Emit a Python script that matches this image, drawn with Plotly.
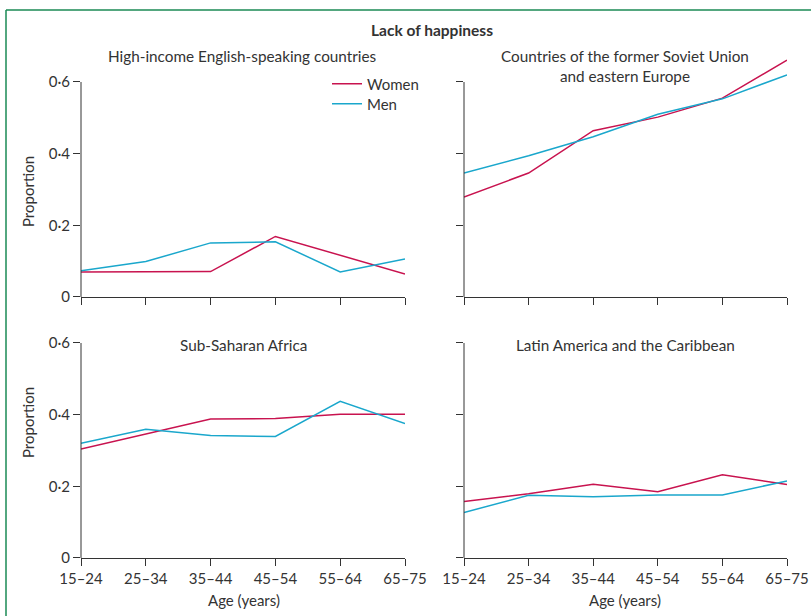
import plotly.graph_objects as go

age_groups = ["15–24", "25–34", "35–44", "45–54", "55–64", "65–75"]
y_ticks = [0, 0.2, 0.4, 0.6]
y_tick_labels = ["0", "0·2", "0·4", "0·6"]

regions = [
    "High-income English-speaking countries",
    "Countries of the former Soviet Union<br>and eastern Europe",
    "Sub-Saharan Africa",
    "Latin America and the Caribbean",
]

women_hi = [0.070, 0.071, 0.071, 0.169, 0.116, 0.064]
men_hi = [0.073, 0.099, 0.151, 0.154, 0.070, 0.106]
women_fsu = [0.279, 0.346, 0.464, 0.502, 0.555, 0.661]
men_fsu = [0.346, 0.394, 0.447, 0.510, 0.553, 0.620]
women_ssa = [0.304, 0.346, 0.388, 0.389, 0.401, 0.401]
men_ssa = [0.320, 0.359, 0.342, 0.339, 0.437, 0.375]
women_lac = [0.158, 0.179, 0.206, 0.185, 0.232, 0.205]
men_lac = [0.127, 0.175, 0.171, 0.176, 0.176, 0.215]

women = [women_hi, women_fsu, women_ssa, women_lac]
men = [men_hi, men_fsu, men_ssa, men_lac]

WOMEN_COLOR = "#c8134f"
MEN_COLOR = "#1aa7cc"
TEXT = "#333333"
FONT = "Lato"
YMAX = 0.7

W, H = 811, 616
ml, mr, mt, mb = 81, 24, 40, 58
pw, ph = W - ml - mr, H - mt - mb

def px_x(p):
    return (p - ml) / pw

def px_y(p):
    return (H - mb - p) / ph

col_domains = [[0, px_x(405)], [px_x(464), 1]]
row_px = [(297, 82), (558, 343)]
row_domains = []
for p0, p6 in row_px:
    top = p0 - (p0 - p6) * YMAX / 0.6
    row_domains.append([px_y(p0), px_y(top)])

fig = go.Figure()
xs = list(range(len(age_groups)))
shapes = []

for i in range(4):
    r, c = divmod(i, 2)
    n = "" if i == 0 else str(i + 1)
    fig.add_trace(go.Scatter(x=xs, y=women[i], mode="lines", name="Women",
                             line=dict(color=WOMEN_COLOR, width=1.5),
                             xaxis="x" + n, yaxis="y" + n, showlegend=(i == 0),
                             legend="legend"))
    fig.add_trace(go.Scatter(x=xs, y=men[i], mode="lines", name="Men",
                             line=dict(color=MEN_COLOR, width=1.5),
                             xaxis="x" + n, yaxis="y" + n, showlegend=(i == 0),
                             legend="legend2"))
    xa = dict(domain=col_domains[c], anchor="y" + n, range=[0, 5], automargin=False,
              tickvals=xs, ticktext=age_groups, showticklabels=(r == 1),
              showline=True, linecolor=TEXT, linewidth=1, ticks="outside",
              ticklen=7, tickcolor=TEXT, showgrid=False, zeroline=False,
              tickfont=dict(family=FONT, size=15, color=TEXT))
    ya = dict(domain=row_domains[r], anchor="x" + n, range=[0, YMAX], automargin=False,
              tickvals=y_ticks, ticktext=y_tick_labels, showticklabels=(c == 0),
              showline=False, ticks="outside",
              ticklen=7, tickcolor=TEXT, showgrid=False, zeroline=False,
              tickfont=dict(family=FONT, size=15, color=TEXT))
    fig.layout["xaxis" + n] = xa
    fig.layout["yaxis" + n] = ya
    shapes.append(dict(type="line", xref="x" + n + " domain", yref="y" + n,
                       x0=0, x1=0, y0=0, y1=y_ticks[-1],
                       line=dict(color=TEXT, width=1)))

def ann(text, x, y, size=15.3, angle=0):
    return dict(text=text, x=px_x(x), y=px_y(y), xref="paper", yref="paper",
                showarrow=False, textangle=angle,
                font=dict(family=FONT, size=size, color=TEXT),
                xanchor="center", yanchor="middle")

annotations = [
    ann("<b>Lack of happiness</b>", 432, 30, 15.5),
    ann(regions[0], 242, 56),
    ann(regions[1], 625, 66),
    ann(regions[2], 243, 345),
    ann(regions[3], 625, 345),
    ann("Proportion", 28, 191, 15, -90),
    ann("Proportion", 28, 422, 15, -90),
    ann("Age (years)", 244, 600, 15),
    ann("Age (years)", 625, 600, 15),
]

shapes += [
    dict(type="line", xref="paper", yref="paper", x0=px_x(6), x1=px_x(W + 2), y0=px_y(10), y1=px_y(10),
         line=dict(color="#1a8a55", width=1.5)),
    dict(type="line", xref="paper", yref="paper", x0=px_x(6), x1=px_x(6), y0=px_y(10), y1=px_y(H + 2),
         line=dict(color="#1a8a55", width=1.5)),
]

legend_style = dict(xanchor="left", yanchor="middle", bgcolor="rgba(0,0,0,0)",
                    font=dict(family=FONT, size=15, color=TEXT), itemwidth=30)

fig.update_layout(
    template="none",
    width=W, height=H,
    margin=dict(l=ml, r=mr, t=mt, b=mb),
    paper_bgcolor="white", plot_bgcolor="white",
    font=dict(family=FONT, color=TEXT),
    annotations=annotations, shapes=shapes,
    showlegend=True,
    legend=dict(x=px_x(327), y=px_y(84), **legend_style),
    legend2=dict(x=px_x(327), y=px_y(104), **legend_style),
)

fig.write_html("out.html", config={"displayModeBar": False},
               post_script="document.body.style.margin='0';document.body.style.overflow='hidden';")
